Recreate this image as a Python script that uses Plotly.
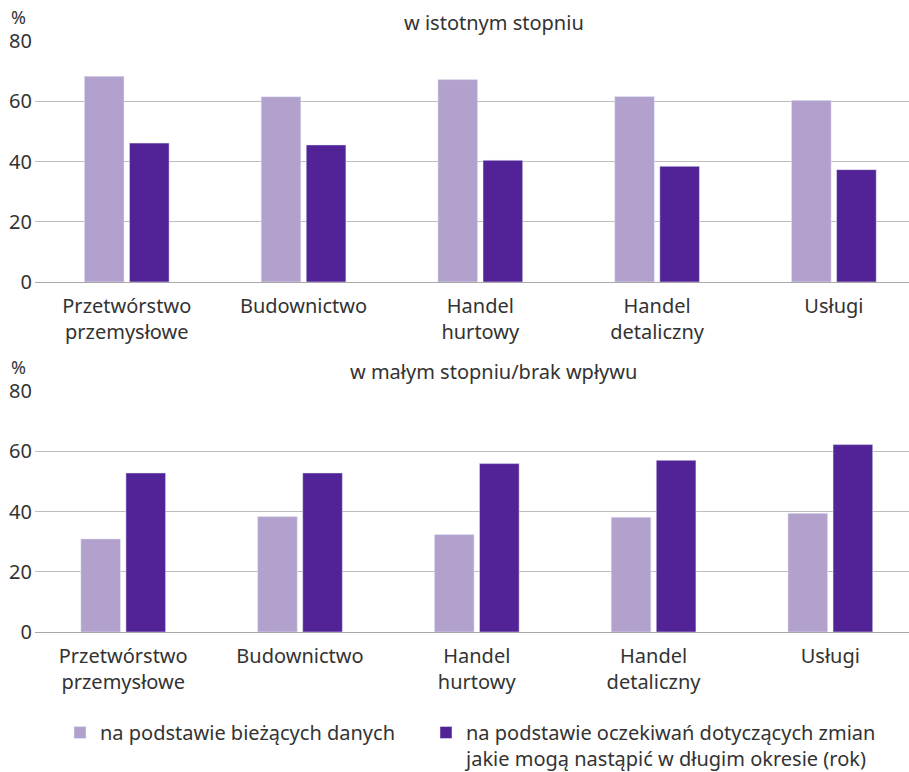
import plotly.graph_objects as go
from plotly.subplots import make_subplots

categories = ["Przetwórstwo<br>przemysłowe", "Budownictwo", "Handel<br>hurtowy", "Handel<br>detaliczny", "Usługi"]
series_names = ["na podstawie bieżących danych",
                "na podstawie oczekiwań dotyczących zmian<br>jakie mogą nastąpić w długim okresie (rok)"]
panel_titles = ["w istotnym stopniu", "w małym stopniu/brak wpływu"]

top_current = [68.3, 61.5, 67.2, 61.6, 60.3]
top_expected = [46.1, 45.5, 40.4, 38.4, 37.3]
bottom_current = [30.9, 38.3, 32.4, 38.1, 39.4]
bottom_expected = [52.8, 52.8, 55.9, 57.0, 62.2]

y_ticks = [0, 20, 40, 60, 80]

LIGHT = "#b3a1cd"
DARK = "#522396"
TEXT = "#333333"
FONT = "Noto Sans"

W, H = 909, 772

fig = make_subplots(rows=2, cols=1, shared_xaxes=False)

x_idx = list(range(len(categories)))

fig.add_trace(go.Bar(x=x_idx, y=top_current, name=series_names[0], marker_color=LIGHT,
                     legendgroup="a", showlegend=True, legend="legend"), row=1, col=1)
fig.add_trace(go.Bar(x=x_idx, y=top_expected, name=series_names[1], marker_color=DARK,
                     legendgroup="b", showlegend=True, legend="legend2"), row=1, col=1)
fig.add_trace(go.Bar(x=x_idx, y=bottom_current, name=series_names[0], marker_color=LIGHT,
                     legendgroup="a", showlegend=False, legend="legend"), row=2, col=1)
fig.add_trace(go.Bar(x=x_idx, y=bottom_expected, name=series_names[1], marker_color=DARK,
                     legendgroup="b", showlegend=False, legend="legend2"), row=2, col=1)

x0 = 35 / W
def ydom(top_px, bot_px):
    return [1 - bot_px / H, 1 - top_px / H]

axis_common = dict(
    tickmode="array", tickvals=x_idx, ticktext=categories,
    showgrid=False, zeroline=False, showline=False, ticks="",
    tickfont=dict(family=FONT, size=20, color=TEXT), ticklabelstandoff=10,
    automargin=False, fixedrange=True,
)
yaxis_common = dict(
    range=[0, 80], tickvals=y_ticks, showgrid=True, gridcolor="#bdbdbd", gridwidth=1,
    zeroline=True, zerolinecolor="#a8a8a8", zerolinewidth=1, showline=False, ticks="",
    tickfont=dict(family=FONT, size=20, color=TEXT), automargin=False, ticklabelstandoff=2,
    fixedrange=True,
)

fig.update_layout(
    xaxis=dict(domain=[x0, 1], range=[-0.519, 4.425], **axis_common),
    xaxis2=dict(domain=[x0, 1], range=[-0.499, 4.445], **axis_common),
    yaxis=dict(domain=ydom(41, 282), **yaxis_common),
    yaxis2=dict(domain=ydom(391, 632), **yaxis_common),
)

for title, ty in zip(panel_titles, [23, 372]):
    fig.add_annotation(text=title, xref="paper", yref="paper", x=494 / W, y=1 - ty / H,
                       showarrow=False, xanchor="center", yanchor="middle",
                       font=dict(family=FONT, size=20, color=TEXT))
for py in [17, 367]:
    fig.add_annotation(text="%", xref="paper", yref="paper", x=9 / W, y=1 - py / H,
                       showarrow=False, xanchor="left", yanchor="middle",
                       font=dict(family=FONT, size=18, color=TEXT))

legend_common = dict(orientation="v", xanchor="left", valign="top",
                     font=dict(family=FONT, size=20, color=TEXT), bgcolor="rgba(0,0,0,0)")

fig.update_layout(
    width=W, height=H,
    margin=dict(l=0, r=0, t=0, b=0, autoexpand=False),
    paper_bgcolor="white", plot_bgcolor="white",
    barmode="group", bargap=0.49, bargroupgap=0.12,
    font=dict(family=FONT, size=20, color=TEXT),
    legend=dict(x=60 / W, y=1 - 713 / H, yanchor="top", **legend_common),
    legend2=dict(x=426 / W, y=-6 / H, yanchor="bottom", **legend_common),
    showlegend=True,
)

fig.write_html("out.html", config={"displayModeBar": False},
               post_script="document.body.style.margin='0px';")
